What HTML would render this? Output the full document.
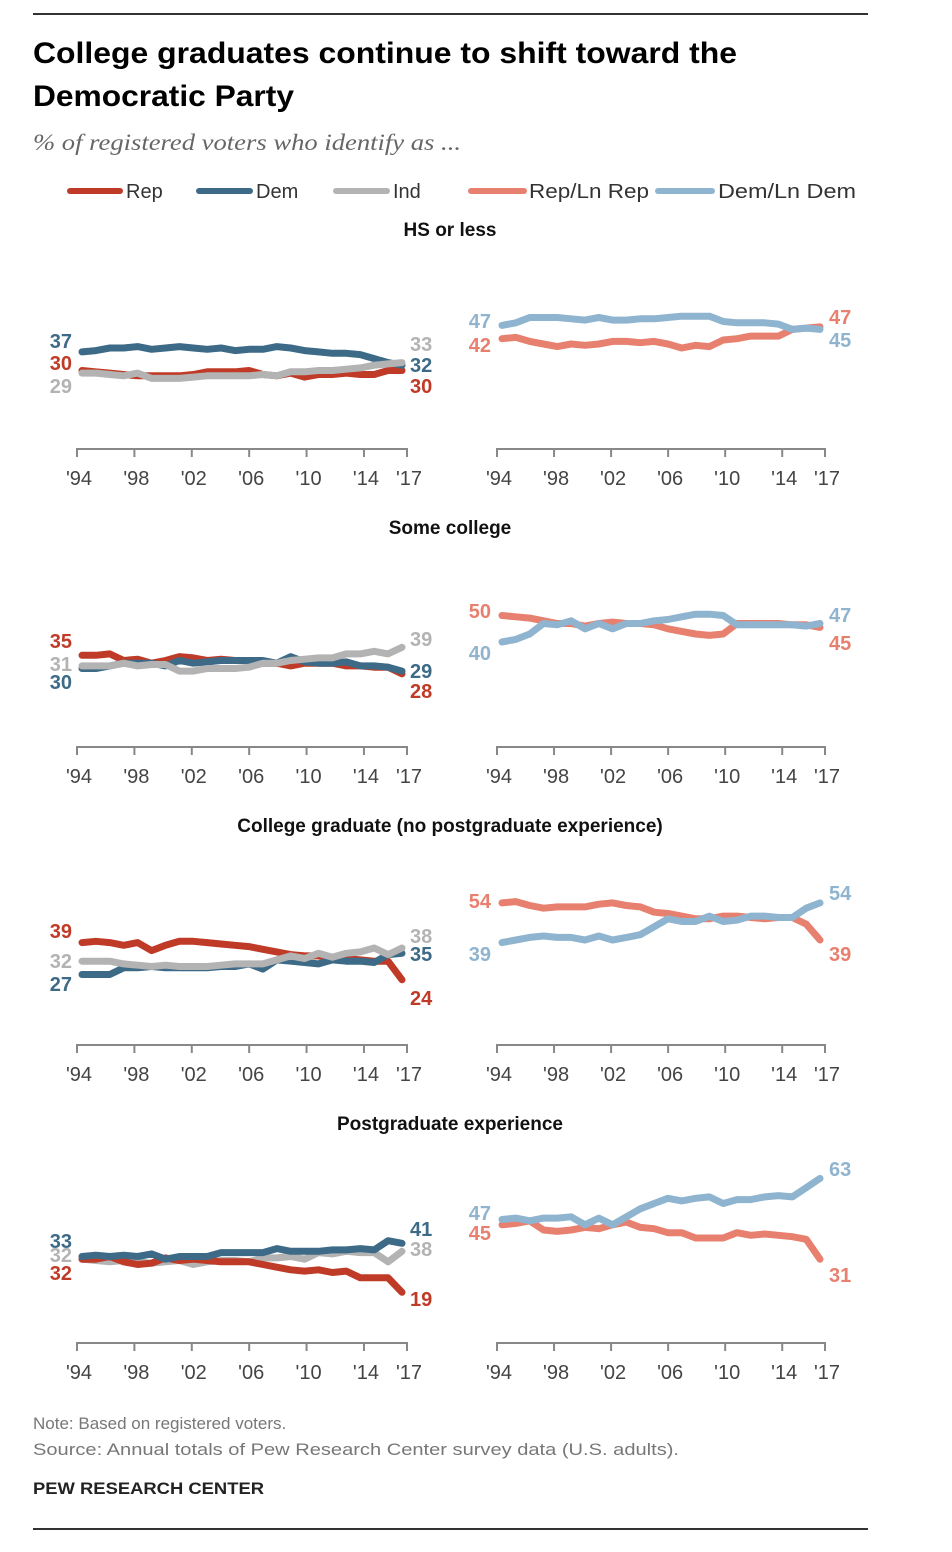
<!DOCTYPE html>
<html><head><meta charset="utf-8"><style>
html,body{margin:0;padding:0;background:#fff}
svg{display:block}
text{font-family:"Liberation Sans",sans-serif}
</style></head><body>
<svg id="chart" width="952" height="1552" viewBox="0 0 952 1552" xmlns="http://www.w3.org/2000/svg">
<line x1="33" y1="14" x2="868" y2="14" stroke="#333" stroke-width="2"/>
<text x="33" y="63" font-size="30" font-weight="bold" fill="#000" textLength="704" lengthAdjust="spacingAndGlyphs">College graduates continue to shift toward the</text>
<text x="33" y="106" font-size="30" font-weight="bold" fill="#000" textLength="261" lengthAdjust="spacingAndGlyphs">Democratic Party</text>
<text x="33" y="150" font-size="23" font-style="italic" fill="#666" style="font-family:'Liberation Serif',serif" textLength="428" lengthAdjust="spacingAndGlyphs">% of registered voters who identify as ...</text>
<g font-size="20" fill="#333">
<g><line x1="70" y1="191" x2="120" y2="191" stroke="#bf3b27" stroke-width="6" stroke-linecap="round"/><text x="126" y="198">Rep</text></g>
<g><line x1="199" y1="191" x2="250" y2="191" stroke="#3d6a87" stroke-width="6" stroke-linecap="round"/><text x="256" y="198">Dem</text></g>
<g><line x1="336" y1="191" x2="387" y2="191" stroke="#b3b3b3" stroke-width="6" stroke-linecap="round"/><text x="393" y="198">Ind</text></g>
<g><line x1="471" y1="191" x2="524" y2="191" stroke="#e8806f" stroke-width="6" stroke-linecap="round"/><text x="529" y="198" textLength="120" lengthAdjust="spacingAndGlyphs">Rep/Ln Rep</text></g>
<g><line x1="658" y1="191" x2="712" y2="191" stroke="#8fb4cf" stroke-width="6" stroke-linecap="round"/><text x="718" y="198" textLength="138" lengthAdjust="spacingAndGlyphs">Dem/Ln Dem</text></g>
</g>
<text x="33" y="1429" font-size="17" fill="#777">Note: Based on registered voters.</text>
<text x="33" y="1455" font-size="17" fill="#777" textLength="646" lengthAdjust="spacingAndGlyphs">Source: Annual totals of Pew Research Center survey data (U.S. adults).</text>
<text x="33" y="1494" font-size="17" font-weight="bold" fill="#222" textLength="231" lengthAdjust="spacingAndGlyphs">PEW RESEARCH CENTER</text>
<line x1="33" y1="1529" x2="868" y2="1529" stroke="#333" stroke-width="2"/>
<g id="panels"></g>
</svg>
<script>
const years = [1994,1995,1996,1997,1998,1999,2000,2001,2002,2003,2004,2005,2006,2007,2008,2009,2010,2011,2012,2013,2014,2015,2016,2017];
const tickYears = [1994,1998,2002,2006,2010,2014,2017];
const tickLabels = ["'94","'98","'02","'06","'10","'14","'17"];
const sectionTitles = ["HS or less","Some college","College graduate (no postgraduate experience)","Postgraduate experience"];

const hsRep = [30,29.5,29,28.5,28,28,28,28,28.5,29.5,29.5,29.5,30,28.5,28,29,27.5,28.5,28.5,29,28.5,28.5,30,30];
const hsDem = [37,37.5,38.5,38.5,39,38,38.5,39,38.5,38,38.5,37.5,38,38,39,38.5,37.5,37,36.5,36.5,36,34.5,33,32];
const hsInd = [29,29,28.5,28,29,27,27,27,27.5,28,28,28,28,28.5,28,29.5,29.5,30,30,30.5,31,32,32.5,33];
const hsRepLn = [42,42.5,41,40,39,40,39.5,40,41,41,40.5,41,40,38.5,39.5,39,41.5,42,43,43,43,45.5,46,46.5];
const hsDemLn = [47,48,50,50,50,49.5,49,50,49,49,49.5,49.5,50,50.5,50.5,50.5,48.5,48,48,48,47.5,45.5,46,45.5];

const scRep = [35,35,35.5,33,33.5,32,33,34.5,34,33,33.5,33,33,32,32,31,32,32,32,31,31,30.5,30.5,28];
const scDem = [30,30,31,32,32,32,31,33,32,32.5,33,33,33,33,32,34.5,32.5,32,32,32.5,31,31,30.5,29];
const scInd = [31,31,31,32,31,31.5,31.5,29,29,30,30,30,30.5,32,32,33,33.5,34,34,35.5,35.5,36.5,35.5,38];
const scRepLn = [50,49.5,49,48,47,47,46,47,47.5,47,47,46.5,45,44,43,42.5,43,47,47,47,47,46.5,46.5,45.5];
const scDemLn = [40,41,43,47,46.5,48,45,47,45,47,47,48,48.5,49.5,50.5,50.5,50,46.5,46.5,46.5,46.5,46.5,46,47];

const cgRep = [39,39.5,39,38,39,36,38,39.5,39.5,39,38.5,38,37.5,36.5,35.5,34.5,34,34,33,33,32.5,32,32,25];
const cgDem = [27,27,27,29.5,29.5,30,29.5,29.5,29.5,29.5,30,30,31,29,32.5,32,31.5,31,32.5,32,32,31.5,34.5,35];
const cgInd = [32,32,32,31,30.5,30,30.5,30,30,30,30.5,31,31,31,32.5,34,33,35,33.5,35,35.5,37,34.5,37];
const cgRepLn = [54,54.5,53,52,52.5,52.5,52.5,53.5,54,53,52.5,50.5,50,49,48,48,49,49,48.5,48,48.5,48.5,46,40];
const cgDemLn = [39,40,41,41.5,41,41,40,41.5,40,41,42,45,48,47,47,49,47,47.5,49,49,48.5,48.5,52,54];

const pgRep = [32,32,33,31,30,30.5,32.5,31.5,32,31.5,31,31,31,30,29,28,27.5,28,27,27.5,25,25,25,19.5];
const pgDem = [33,33.5,33,33.5,33,34,32,33,33,33,34.5,34.5,34.5,34.5,36,35,35,35,35.5,35.5,36,35.5,39,38];
const pgInd = [32,31.5,31,31.5,31,30.5,31,31.5,30,31,31.5,31.5,31,32.5,32.5,33,32,34.5,34,35,34.5,34.5,31,35];
const pgRepLn = [45,45.5,46.5,43,42.5,43,44,43.5,45,46,44,43.5,42,42,40,40,40,42,41,41.5,41,40.5,39.5,32];
const pgDemLn = [47,47.5,46.5,47.5,47.5,48,45,47.5,45,48,51,53,55,54,55,55.5,53,54.5,54.5,55.5,56,55.5,59,62.5];

// printed labels [start, end]
const hsLabels = {rep:[30,30],dem:[37,32],ind:[29,33],repLn:[42,47],demLn:[47,45]};
const scLabels = {rep:[35,28],dem:[30,29],ind:[31,39],repLn:[50,45],demLn:[40,47]};
const cgLabels = {rep:[39,24],dem:[27,35],ind:[32,38],repLn:[54,39],demLn:[39,54]};
const pgLabels = {rep:[32,19],dem:[33,41],ind:[32,38],repLn:[45,31],demLn:[47,63]};

const COLORS = {rep:"#bf3b27",dem:"#3d6a87",ind:"#b3b3b3",repLn:"#e8806f",demLn:"#8fb4cf"};
const NS = "http://www.w3.org/2000/svg";
const root = document.getElementById('panels');
const SCALE = 2.65;

const panels = [
 {name:"hs",base:449,left:{rep:hsRep,dem:hsDem,ind:hsInd},right:{repLn:hsRepLn,demLn:hsDemLn},labels:hsLabels,
  ly:{s:{dem:348,rep:370,ind:393,demLn:328,repLn:352},e:{ind:351,dem:372,rep:393,repLn:324,demLn:347}}},
 {name:"some-college",base:747,left:{rep:scRep,dem:scDem,ind:scInd},right:{repLn:scRepLn,demLn:scDemLn},labels:scLabels,
  ly:{s:{rep:648,ind:671,dem:689,repLn:618,demLn:660},e:{ind:646,dem:678,rep:698,demLn:622,repLn:650}}},
 {name:"college-grad",base:1045,left:{rep:cgRep,dem:cgDem,ind:cgInd},right:{repLn:cgRepLn,demLn:cgDemLn},labels:cgLabels,
  ly:{s:{rep:938,ind:968,dem:991,repLn:908,demLn:961},e:{ind:943,dem:961,rep:1005,demLn:900,repLn:961}}},
 {name:"postgrad",base:1343,left:{ind:pgInd,rep:pgRep,dem:pgDem},right:{repLn:pgRepLn,demLn:pgDemLn},labels:pgLabels,
  ly:{s:{dem:1248,ind:1262,rep:1280,demLn:1220,repLn:1240},e:{dem:1236,ind:1256,rep:1306,demLn:1176,repLn:1282}}}
];

function mk(tag, attrs, parent){
  const el = document.createElementNS(NS, tag);
  for (const k in attrs) el.setAttribute(k, attrs[k]);
  parent.appendChild(el);
  return el;
}

panels.forEach((p, pi) => {
  const g = mk('g', {}, root);
  
  
  const t = mk('text', {x:450, y:p.base - 213, 'font-size':19, 'font-weight':'bold', 'text-anchor':'middle', fill:'#111'}, g);
  t.textContent = sectionTitles[pi];
  
  
  [[77,407,p.left,72,410],[497,825,p.right,491,829]].forEach(([x0,x1,series,sx,ex], side) => {
    const xs = y => x0 + 5 + (y - years[0]) / (years[years.length-1] - years[0]) * (x1 - x0 - 10);
    const ys = v => p.base + 1 - v * SCALE;
    const ax = mk('path', {d:`M${x0},${p.base+8}V${p.base}H${x1}V${p.base+8}`, fill:'none', stroke:'#888', 'stroke-width':2}, g);
    
    
    tickYears.forEach((ty, i) => {
      const tx = x0 + (ty - years[0]) / (years[years.length-1] - years[0]) * (x1 - x0);
      if (i > 0 && i < tickYears.length - 1) {
        const tk = mk('line', {x1:tx, x2:tx, y1:p.base, y2:p.base+8, stroke:'#888', 'stroke-width':2}, g);
        
        
      }
      const tl = mk('text', {x:tx + 2, y:p.base + 36, 'font-size':20, 'text-anchor':'middle', fill:'#444'}, g);
      tl.textContent = tickLabels[i];
      
      
    });
    Object.keys(series).forEach(key => {
      const vals = series[key];
      const d = vals.map((v, i) => (i ? 'L' : 'M') + xs(years[i]).toFixed(1) + ',' + ys(v).toFixed(1)).join('');
      const ln = mk('path', {d, fill:'none', stroke:COLORS[key], 'stroke-width':7, 'stroke-linejoin':'round', 'stroke-linecap':'round'}, g);
      
      
      const s = mk('text', {x:sx, y:p.ly.s[key], 'font-size':20, 'font-weight':'bold', 'text-anchor':'end', fill:COLORS[key]}, g);
      s.textContent = p.labels[key][0];
      
      
      const e = mk('text', {x:ex, y:p.ly.e[key], 'font-size':20, 'font-weight':'bold', fill:COLORS[key]}, g);
      e.textContent = p.labels[key][1];
      
      
    });
  });
});
</script>
</body></html>
